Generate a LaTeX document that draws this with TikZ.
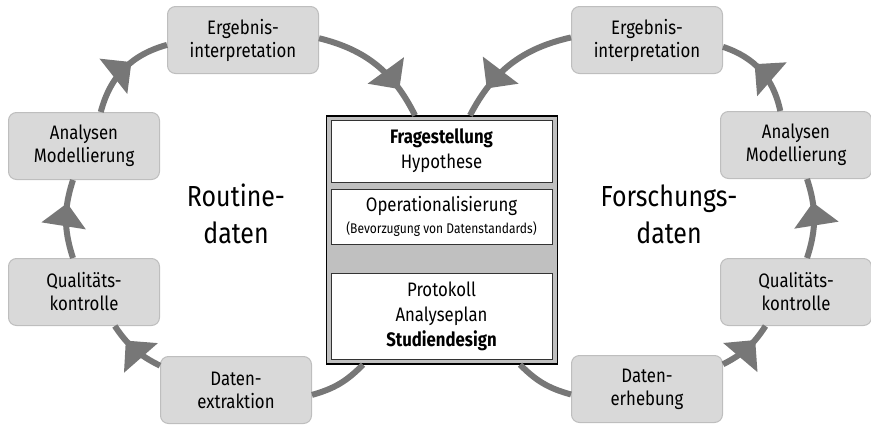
\documentclass[tikz,border=0pt]{standalone}
\usepackage{fontspec}
\setmainfont[FakeStretch=0.86]{Fira Sans}
\usetikzlibrary{decorations.markings}
\definecolor{kasten}{RGB}{217,217,217}
\definecolor{rand}{RGB}{190,190,190}
\definecolor{pfeil}{RGB}{119,119,119}
\definecolor{block}{RGB}{192,192,192}

\begin{document}
\begin{tikzpicture}[x=1pt,y=-1pt,
  schritt/.style={draw=rand,fill=kasten,line width=1pt,rounded corners=8pt,minimum width=151pt,minimum height=67pt,inner sep=0pt,align=center,font=\fontsize{19.5}{23}\selectfont},
  feld/.style={draw=black!80,fill=white,line width=0.8pt,minimum width=221pt,inner sep=0pt,align=center,font=\fontsize{19.5}{25}\selectfont},
  titel/.style={align=center,font=\fontsize{29}{37}\selectfont},
  kreis/.style={draw=pfeil,line width=6pt},
  spitze/.style={postaction={decorate},decoration={markings,mark=at position #1 with {\fill[pfeil] (0pt,0pt) -- (-23pt,22.5pt) -- (-23pt,-22.5pt) -- cycle;}}},
  spitze/.default=0.7]
\useasboundingbox (0,0) rectangle (871,426);
\node[schritt] (ergL) at (243,40) {Ergebnis-\\interpretation};
\node[schritt] (anaL) at (84,146) {Analysen\\Modellierung};
\node[schritt] (quaL) at (84,292) {Qualitäts-\\kontrolle};
\node[schritt] (datL) at (236,390) {Daten-\\extraktion};
\node[schritt] (ergR) at (647,40) {Ergebnis-\\interpretation};
\node[schritt] (anaR) at (796,145) {Analysen\\Modellierung};
\node[schritt] (quaR) at (796,292) {Qualitäts-\\kontrolle};
\node[schritt] (datR) at (647,389) {Daten-\\erhebung};
\node[titel] (routine) at (236,214) {Routine-\\daten};
\node[titel] (forschung) at (669,214) {Forschungs-\\daten};
\node[draw=black,line width=1.2pt,fill=block,minimum width=231pt,minimum height=248pt,inner sep=0pt] (zentrum) at (442,240) {};
\node[feld,minimum height=62pt] (frage) at (441.5,151) {\textbf{Fragestellung}\\Hypothese};
\node[feld,minimum height=55pt] (opera) at (441.5,216.5) {Operationalisierung\\[-3pt]{\fontsize{14}{17}\selectfont(Bevorzugung von Datenstandards)}};
\node[feld,minimum height=86pt] (proto) at (441.5,316) {Protokoll\\Analyseplan\\\textbf{Studiendesign}};
\draw[kreis,spitze] (datL) to[bend left=15] (quaL);
\draw[kreis,spitze] (quaL) to[bend left=18] (anaL);
\draw[kreis,spitze=0.6] (anaL) to[bend left=30] (ergL);
\draw[kreis,spitze=0.76] (ergL) to[bend left=25] ([xshift=-27pt]zentrum.north);
\draw[kreis] ([xshift=-79pt]zentrum.south) to[bend left=15] (datL);
\draw[kreis,spitze] (datR) to[bend right=15] (quaR);
\draw[kreis,spitze] (quaR) to[bend right=18] (anaR);
\draw[kreis,spitze=0.6] (anaR) to[bend right=30] (ergR);
\draw[kreis,spitze=0.76] (ergR) to[bend right=25] ([xshift=28pt]zentrum.north);
\draw[kreis] ([xshift=78pt]zentrum.south) to[bend right=15] (datR);
\end{tikzpicture}
\end{document}
